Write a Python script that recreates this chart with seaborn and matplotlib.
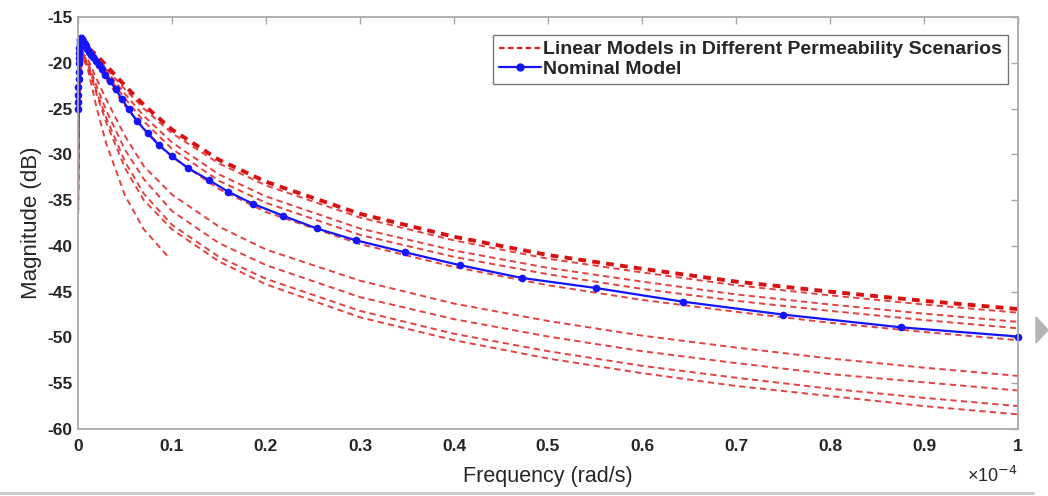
import numpy as np
import pandas as pd
import matplotlib
matplotlib.use("Agg")
import matplotlib.pyplot as plt
from matplotlib.lines import Line2D
from matplotlib.patches import Polygon
import seaborn as sns

# frequency in units of 1e-4 rad/s
red_x = [0.0002, 0.001, 0.002, 0.005, 0.01, 0.02, 0.03, 0.05, 0.07, 0.1,
         0.15, 0.2, 0.3, 0.4, 0.5, 0.6, 0.7, 0.8, 0.9, 1.0]
red_u1 = [-25.0, -21.0, -19.3, -18.2, -18.3, -19.2, -20.3, -22.5, -24.6, -27.3,
          -30.6, -33.0, -36.5, -39.0, -41.0, -42.5, -43.9, -45.0, -46.0, -46.9]
red_u1b = [-26.0, -21.5, -19.5, -18.3, -18.4, -19.4, -20.6, -22.9, -25.0, -27.7,
           -31.0, -33.4, -36.9, -39.4, -41.4, -42.9, -44.3, -45.4, -46.4, -47.3]
red_u2 = [-26.5, -22.0, -19.8, -18.4, -18.5, -19.5, -20.8, -23.4, -25.8, -28.7,
          -32.2, -34.6, -38.1, -40.5, -42.4, -43.9, -45.3, -46.4, -47.4, -48.3]
red_u3 = [-27.5, -22.5, -20.0, -18.6, -18.7, -19.8, -21.2, -23.9, -26.4, -29.4,
          -32.9, -35.3, -38.8, -41.2, -43.1, -44.7, -46.0, -47.1, -48.1, -49.0]
red_u4 = [-28.5, -23.0, -20.3, -18.8, -19.0, -20.3, -21.8, -24.7, -27.2, -30.3,
          -33.8, -36.3, -39.8, -42.3, -44.3, -45.9, -47.2, -48.4, -49.4, -50.3]
red_a = [-33.0, -24.0, -21.0, -19.0, -19.5, -21.8, -24.0, -28.0, -31.3, -34.4,
         -37.9, -40.4, -43.8, -46.3, -48.2, -49.8, -51.1, -52.3, -53.3, -54.2]
red_b = [-34.0, -24.5, -21.2, -19.1, -19.8, -22.6, -25.2, -29.5, -32.7, -36.2,
         -39.7, -42.1, -45.6, -48.0, -49.9, -51.5, -52.8, -54.0, -54.9, -55.8]
red_c = [-35.0, -25.0, -21.5, -19.2, -20.0, -23.2, -26.0, -30.8, -34.3, -37.7,
         -41.2, -43.6, -47.1, -49.6, -51.5, -53.1, -54.4, -55.6, -56.6, -57.5]
red_d = [-36.0, -25.5, -21.8, -19.3, -20.2, -23.5, -26.5, -31.5, -35.0, -38.2,
         -41.7, -44.2, -47.8, -50.3, -52.3, -53.9, -55.3, -56.4, -57.5, -58.4]
red_e_x = [0.0002, 0.001, 0.002, 0.005, 0.01, 0.02, 0.03, 0.05, 0.07, 0.096]
red_e = [-36.5, -26.0, -22.0, -19.5, -20.5, -25.0, -28.8, -34.5, -38.2, -41.2]

blue_x = [0.0002, 0.0003, 0.0004, 0.0005, 0.0006, 0.0007, 0.0009, 0.0010,
          0.0012, 0.0014, 0.0016, 0.0019, 0.0022, 0.0025, 0.0029, 0.0034, 0.0040,
          0.0047, 0.0055, 0.0064, 0.0075, 0.0087,
          0.010, 0.012, 0.014, 0.016, 0.019, 0.022, 0.025, 0.029, 0.034, 0.040,
          0.047, 0.054, 0.063, 0.074, 0.086,
          0.100, 0.117, 0.139, 0.160, 0.186, 0.218, 0.254, 0.296, 0.348, 0.406,
          0.472, 0.551, 0.644, 0.750, 0.876, 1.000]
blue_y = [-25.0, -24.3, -23.5, -22.6, -21.8, -21.0, -20.0, -19.5,
          -18.9, -18.4, -18.0, -17.7, -17.5, -17.4, -17.3, -17.3, -17.4,
          -17.5, -17.6, -17.8, -18.0, -18.2,
          -18.5, -18.8, -19.1, -19.4, -19.8, -20.2, -20.7, -21.3, -22.0, -22.9,
          -24.0, -25.1, -26.4, -27.7, -29.0,
          -30.2, -31.5, -32.8, -34.1, -35.4, -36.7, -38.1, -39.4, -40.7, -42.1,
          -43.5, -44.6, -46.1, -47.5, -48.9, -49.9]

x_ticks = [0, 0.1, 0.2, 0.3, 0.4, 0.5, 0.6, 0.7, 0.8, 0.9, 1]
x_tick_labels = ["0", "0.1", "0.2", "0.3", "0.4", "0.5", "0.6", "0.7", "0.8", "0.9", "1"]
y_ticks = [-60, -55, -50, -45, -40, -35, -30, -25, -20, -15]

sns.set_style("white")
plt.rcParams['font.family'] = ['Liberation Sans', 'DejaVu Sans']
plt.rcParams['axes.unicode_minus'] = False

W, H = 1048, 496
fig = plt.figure(figsize=(W / 100, H / 100), dpi=100)
ax = fig.add_axes([78 / W, 1 - 429 / H, 940 / W, 412 / H])

RED = '#e02020'
dash = (0, (3.2, 2.2))

thick = [red_u1]
thin = [red_u1b, red_u2, red_u3, red_u4, red_a, red_b, red_c, red_d]
for ys in thin:
    sns.lineplot(x=red_x, y=ys, ax=ax, color=RED, lw=1.4, linestyle=dash,
                 estimator=None, sort=False, alpha=0.85)
sns.lineplot(x=red_e_x, y=red_e, ax=ax, color=RED, lw=1.4, linestyle=dash,
             estimator=None, sort=False, alpha=0.85)
for ys in thick:
    sns.lineplot(x=red_x, y=ys, ax=ax, color='#d81010', lw=2.8, linestyle=(0, (2.0, 1.6)),
                 estimator=None, sort=False)

sns.lineplot(x=blue_x, y=blue_y, ax=ax, color='#1414ff', lw=1.6, marker='o',
             markersize=5.5, markeredgewidth=0, estimator=None, sort=False,
             clip_on=False)

ax.set_xlim(0, 1)
ax.set_ylim(-60, -15)
ax.set_xticks(x_ticks)
ax.set_xticklabels(x_tick_labels)
ax.set_yticks(y_ticks)

for s in ax.spines.values():
    s.set_visible(True)
    s.set_color('#a8a8a8')
    s.set_linewidth(1.3)
ax.tick_params(direction='in', length=5, width=1.0, color='#a8a8a8',
               top=True, right=True, labelsize=12.5, labelcolor='#262626')
ax.tick_params(axis='x', pad=7)
ax.tick_params(axis='y', pad=4)
for lab in ax.get_xticklabels() + ax.get_yticklabels():
    lab.set_fontweight('bold')

ax.set_xlabel("Frequency (rad/s)", fontsize=15.5, color='#262626', labelpad=9)
ax.set_ylabel("Magnitude (dB)", fontsize=16, color='#262626', labelpad=4)
ax.text(1.0, -(476 - 429) / 412, "\u00d710$^{-4}$", transform=ax.transAxes,
        ha='right', va='center', fontsize=13, color='#262626')

handles = [Line2D([], [], color=RED, lw=1.6, linestyle=(0, (2.5, 1.5))),
           Line2D([], [], color='#1414ff', lw=1.6, marker='o', markersize=5)]
labels = ["Linear Models in Different Permeability Scenarios", "Nominal Model"]
leg = ax.legend(handles, labels, loc='upper right',
                bbox_to_anchor=((1008 - 78) / 940, (429 - 35) / 412),
                prop={'weight': 'bold', 'size': 14}, frameon=True, fancybox=False,
                handlelength=2.2, handletextpad=0.1, borderpad=0.3, labelspacing=0.1,
                borderaxespad=0.0)
leg.get_frame().set_edgecolor('#555555')
leg.get_frame().set_linewidth(1.0)

# page artefacts: gray rule and arrow
fig.add_artist(Line2D([0, 1033 / W], [1 - 493 / H] * 2, transform=fig.transFigure,
                      color='#c8c8c8', lw=2))
tri = Polygon([[1036 / W, 1 - 317 / H], [1036 / W, 1 - 343 / H], [1048 / W, 1 - 330 / H]],
              closed=True, transform=fig.transFigure, color='#b4b4b4')
fig.add_artist(tri)

fig.savefig("out.png", dpi=100)
